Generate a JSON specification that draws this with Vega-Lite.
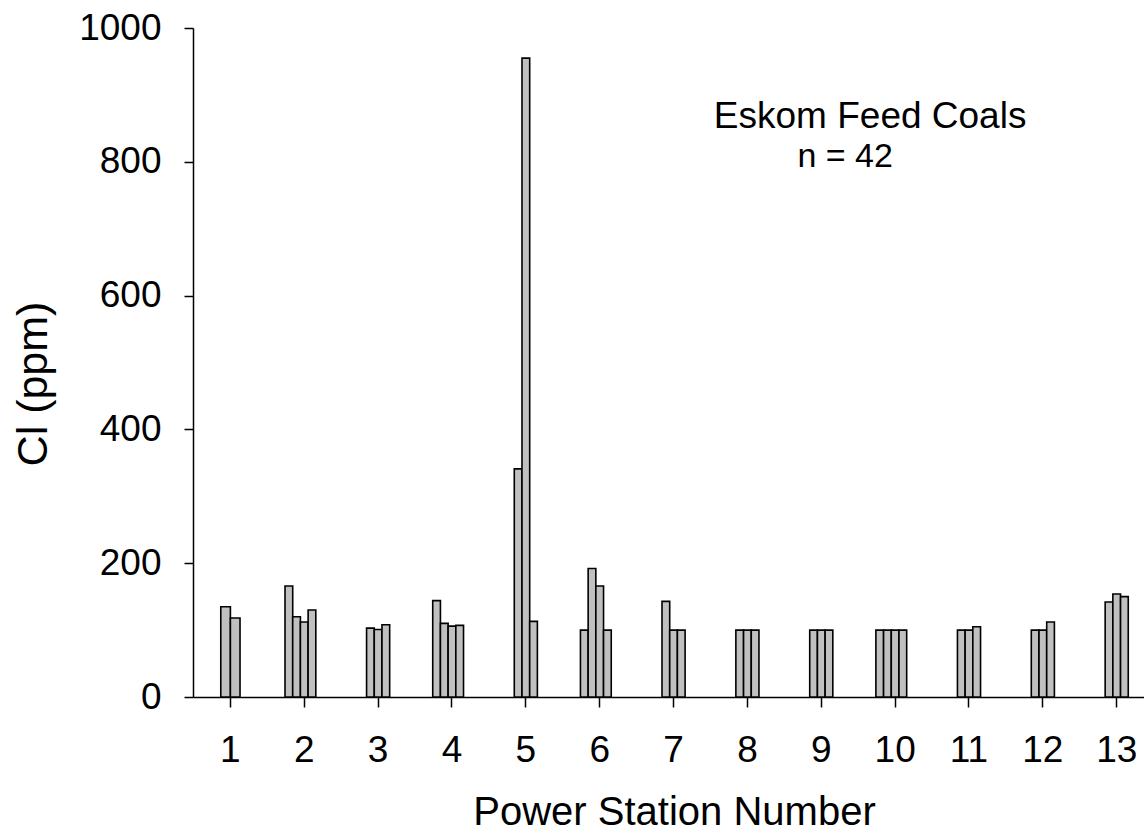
{
  "$schema": "https://vega.github.io/schema/vega-lite/v6.json",
  "width": 951,
  "height": 669,
  "autosize": {"type": "none"},
  "padding": {"left": 193, "top": 28, "right": 0, "bottom": 139},
  "background": "white",
  "config": {
    "view": {"stroke": null},
    "font": "Liberation Sans",
    "axis": {
      "grid": false,
      "domainColor": "black",
      "domainWidth": 1.5,
      "tickColor": "black",
      "tickWidth": 1.5,
      "labelColor": "black",
      "labelFont": "Liberation Sans",
      "labelFontSize": 37,
      "titleFont": "Liberation Sans",
      "titleFontSize": 41,
      "titleFontWeight": "normal",
      "titleColor": "black"
    }
  },
  "datasets": {
    "two": [
      {"station": 1, "rep": 1, "cl": 135},
      {"station": 1, "rep": 2, "cl": 118}
    ],
    "three": [
      {"station": 3, "rep": 1, "cl": 103},
      {"station": 3, "rep": 2, "cl": 101},
      {"station": 3, "rep": 3, "cl": 108},
      {"station": 5, "rep": 1, "cl": 341},
      {"station": 5, "rep": 2, "cl": 955},
      {"station": 5, "rep": 3, "cl": 113},
      {"station": 7, "rep": 1, "cl": 143},
      {"station": 7, "rep": 2, "cl": 100},
      {"station": 7, "rep": 3, "cl": 100},
      {"station": 8, "rep": 1, "cl": 100},
      {"station": 8, "rep": 2, "cl": 100},
      {"station": 8, "rep": 3, "cl": 100},
      {"station": 9, "rep": 1, "cl": 100},
      {"station": 9, "rep": 2, "cl": 100},
      {"station": 9, "rep": 3, "cl": 100},
      {"station": 11, "rep": 1, "cl": 100},
      {"station": 11, "rep": 2, "cl": 100},
      {"station": 11, "rep": 3, "cl": 105},
      {"station": 12, "rep": 1, "cl": 100},
      {"station": 12, "rep": 2, "cl": 100},
      {"station": 12, "rep": 3, "cl": 112},
      {"station": 13, "rep": 1, "cl": 142},
      {"station": 13, "rep": 2, "cl": 154},
      {"station": 13, "rep": 3, "cl": 150}
    ],
    "four": [
      {"station": 2, "rep": 1, "cl": 166},
      {"station": 2, "rep": 2, "cl": 120},
      {"station": 2, "rep": 3, "cl": 112},
      {"station": 2, "rep": 4, "cl": 130},
      {"station": 4, "rep": 1, "cl": 144},
      {"station": 4, "rep": 2, "cl": 110},
      {"station": 4, "rep": 3, "cl": 106},
      {"station": 4, "rep": 4, "cl": 107},
      {"station": 6, "rep": 1, "cl": 100},
      {"station": 6, "rep": 2, "cl": 192},
      {"station": 6, "rep": 3, "cl": 166},
      {"station": 6, "rep": 4, "cl": 100},
      {"station": 10, "rep": 1, "cl": 100},
      {"station": 10, "rep": 2, "cl": 100},
      {"station": 10, "rep": 3, "cl": 100},
      {"station": 10, "rep": 4, "cl": 100}
    ]
  },
  "layer": [
    {
      "data": {"name": "four"},
      "mark": {"type": "bar", "fill": "#c0c0c0", "stroke": "black", "strokeWidth": 1.6},
      "encoding": {
        "x": {
          "field": "station", "type": "ordinal",
          "scale": {"domain": [1,2,3,4,5,6,7,8,9,10,11,12,13], "paddingInner": 0.4787, "paddingOuter": 0.1773, "align": 0.693},
          "axis": {
            "labelAngle": 0, "tickSize": 10, "labelBaseline": "alphabetic", "labelPadding": 54.7,
            "title": "Power Station Number", "titleFontSize": 40, "titleX": 481, "titleY": 127, "titleBaseline": "alphabetic", "titleAlign": "center", "titleAnchor": null
          }
        },
        "xOffset": {"field": "rep", "type": "ordinal", "scale": {"domain": [1,2,3,4,5], "paddingInner": 0, "paddingOuter": 0}},
        "y": {
          "field": "cl", "type": "quantitative",
          "scale": {"domain": [0, 1000], "nice": false},
          "axis": {
            "values": [0, 200, 400, 600, 800, 1000], "format": "d", "tickSize": 9, "labelPadding": 23,
            "title": "Cl (ppm)", "titleFontSize": 43, "titleAngle": 270, "titleX": -159.5, "titleY": 355.5, "titleBaseline": "middle", "titleAlign": "center", "titleAnchor": null
          }
        }
      }
    },
    {
      "data": {"name": "three"},
      "mark": {"type": "bar", "fill": "#c0c0c0", "stroke": "black", "strokeWidth": 1.6},
      "encoding": {
        "x": {"field": "station", "type": "ordinal"},
        "xOffset": {"field": "rep", "type": "ordinal", "scale": {"domain": [1,2,3], "paddingInner": 0, "paddingOuter": 1}},
        "y": {"field": "cl", "type": "quantitative"}
      }
    },
    {
      "data": {"name": "two"},
      "mark": {"type": "bar", "fill": "#c0c0c0", "stroke": "black", "strokeWidth": 1.6},
      "encoding": {
        "x": {"field": "station", "type": "ordinal"},
        "xOffset": {"field": "rep", "type": "ordinal", "scale": {"domain": [1,2], "paddingInner": 0, "paddingOuter": 1.5}},
        "y": {"field": "cl", "type": "quantitative"}
      }
    },
    {
      "data": {"values": [{"label": "Eskom Feed Coals", "station": 10, "cl": 851}]},
      "mark": {"type": "text", "fontSize": 37, "align": "center", "baseline": "alphabetic", "dx": -25, "color": "black", "font": "Liberation Sans"},
      "encoding": {
        "x": {"field": "station", "type": "ordinal"},
        "y": {"field": "cl", "type": "quantitative"},
        "text": {"field": "label"}
      }
    },
    {
      "data": {"values": [{"label": "n = 42", "station": 10, "cl": 792}]},
      "mark": {"type": "text", "fontSize": 34, "align": "center", "baseline": "alphabetic", "dx": -50, "color": "black", "font": "Liberation Sans"},
      "encoding": {
        "x": {"field": "station", "type": "ordinal"},
        "y": {"field": "cl", "type": "quantitative"},
        "text": {"field": "label"}
      }
    }
  ],
  "resolve": {"scale": {"xOffset": "independent"}}
}
